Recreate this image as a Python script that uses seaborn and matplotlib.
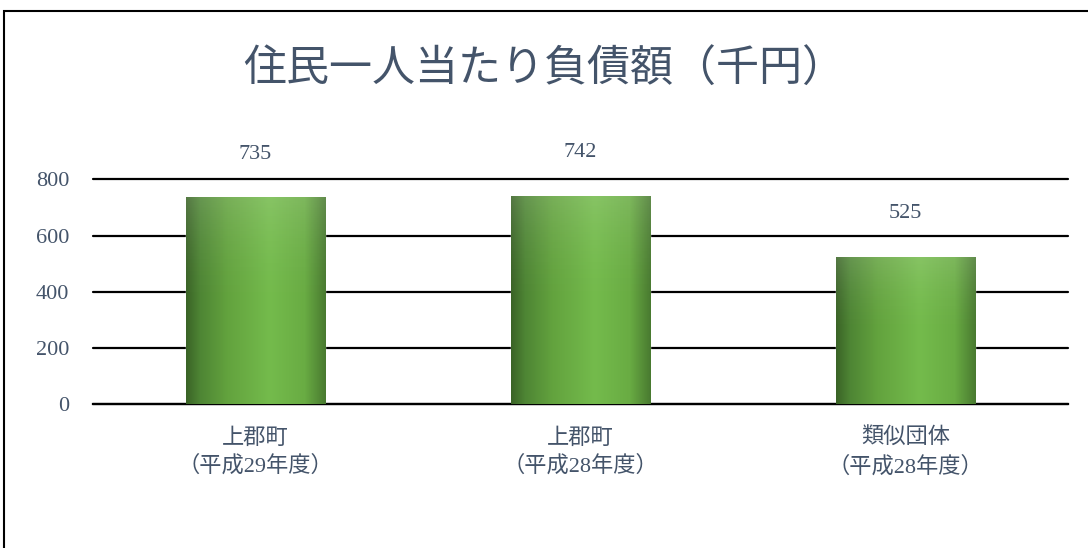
import numpy as np
import pandas as pd
import matplotlib
matplotlib.use("Agg")
import matplotlib.pyplot as plt
import seaborn as sns
from matplotlib.colors import LinearSegmentedColormap
from matplotlib.patches import Rectangle

# data
categories = ["上郡町\n（平成29年度）", "上郡町\n（平成28年度）", "類似団体\n（平成28年度）"]
values = [735, 742, 525]
yticks = [0, 200, 400, 600, 800]
title = "住民一人当たり負債額（千円）"

sns.set_style("white")
plt.rcParams['font.family'] = ['Liberation Serif', 'Noto Sans CJK JP', 'DejaVu Sans']
text_color = "#44546A"

df = pd.DataFrame({"cat": categories, "val": values})

fig = plt.figure(figsize=(10.88, 5.48), dpi=100)
ax = fig.add_axes([0.0855, 0.262, 0.896, 0.411])

sns.barplot(data=df, x="cat", y="val", ax=ax, width=0.43, color="#70AD47",
            saturation=1)

# gradient fill on every bar (dark edges, light centre, lighter top)
cmap = LinearSegmentedColormap.from_list(
    "bargreen", [(0.0, "#3a6326"), (0.1, "#4e8534"), (0.3, "#63a33e"),
                 (0.6, "#74bb4c"), (0.85, "#69ac43"), (1.0, "#497a30")])
grad = np.linspace(0, 1, 256).reshape(1, -1)
for p in ax.patches:
    x0, y0 = p.get_x(), p.get_y()
    w, h = p.get_width(), p.get_height()
    p.set_facecolor("none")
    im = ax.imshow(grad, cmap=cmap, aspect="auto",
                   extent=[x0, x0 + w, y0, y0 + h], zorder=3)
    im.set_clip_path(p)
    overlay = np.zeros((64, 1, 4))
    overlay[..., :3] = 1.0
    overlay[..., 3] = 0.14 * np.linspace(0, 1, 64).reshape(-1, 1) ** 2
    im2 = ax.imshow(overlay, aspect="auto", origin="lower",
                    extent=[x0, x0 + w, y0 + h * 0.4, y0 + h], zorder=3.1)
    im2.set_clip_path(p)

ax.set_xlim(-0.5, len(categories) - 0.5)
ax.set_ylim(0, 800)
ax.set_yticks(yticks)
ax.yaxis.grid(True, color="black", linewidth=1.6, zorder=1)
for gl in ax.get_ygridlines():
    gl.set_clip_on(False)
ax.set_axisbelow(True)
for s in ["top", "right", "left"]:
    ax.spines[s].set_visible(False)
ax.spines["bottom"].set_color("black")
ax.spines["bottom"].set_linewidth(1.6)
ax.tick_params(axis="both", length=0, labelsize=16, colors=text_color)
ax.tick_params(axis="y", pad=17)
ax.tick_params(axis="x", pad=17)
for lbl in ax.get_xticklabels():
    lbl.set_linespacing(1.45)
ax.set_xlabel("")
ax.set_ylabel("")

for i, v in enumerate(values):
    ax.annotate(str(v), (i, v), xytext=(0, 31), textcoords="offset points",
                ha="center", va="center", fontsize=16, color=text_color)

fig.text(0.5, 0.872, title, ha="center", va="center", fontsize=31,
         color=text_color)

# outer frame
fig.patches.append(Rectangle((0.004, -0.01), 1.0, 0.99, transform=fig.transFigure,
                             fill=False, edgecolor="black", linewidth=1.5))

fig.savefig("out.png", dpi=100)
